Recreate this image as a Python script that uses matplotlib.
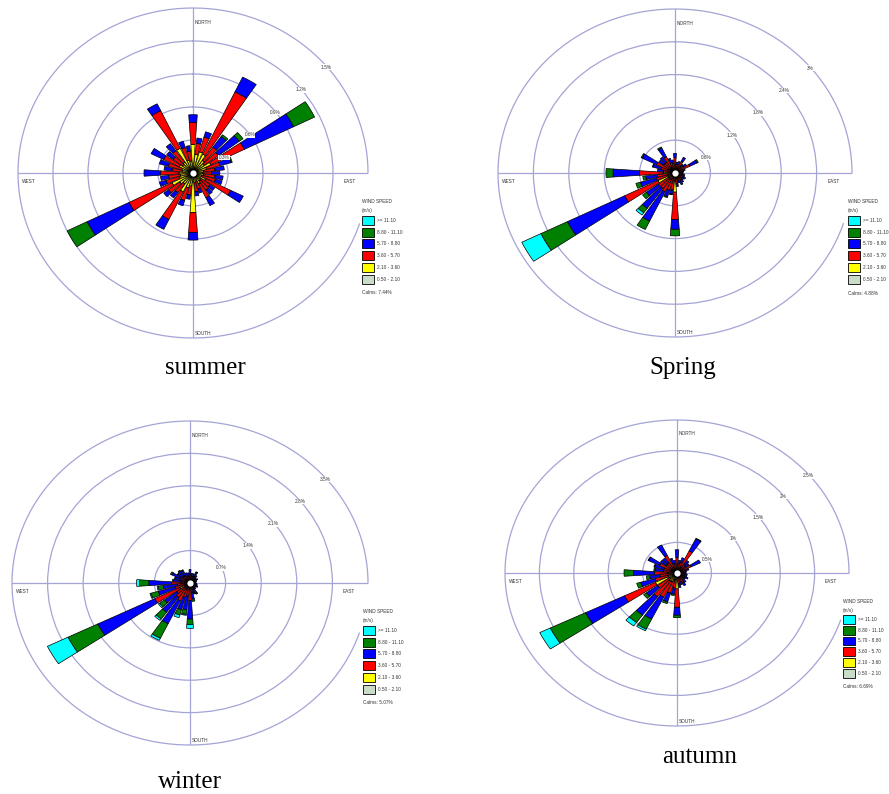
import numpy as np
import matplotlib.pyplot as plt
from matplotlib.patches import Patch

# wind direction sectors (degrees, clockwise from north)
directions = list(range(0, 360, 10))

# speed classes, inner -> outer
speed_labels = ['0.50 - 2.10', '2.10 - 3.60', '3.60 - 5.70', '5.70 - 8.80', '8.80 - 11.10', '>= 11.10']
speed_colors = ['#c8dcc8', '#ffff00', '#ff0000', '#0000ff', '#008000', '#00ffff']

# frequencies in percent, one row per speed class
summer = [
    [.06, .05, .05, .04, .04, .04, .05, .04, .03, .03, .03, .03, .04, .03, .03, .04, .03, .03,
     .08, .04, .04, .05, .04, .04, .06, .04, .04, .04, .03, .03, .05, .04, .04, .06, .04, .04],
    [.20, .12, .15, .15, .10, .08, .12, .08, .06, .05, .06, .05, .08, .05, .06, .07, .05, .06,
     .28, .08, .10, .14, .08, .10, .14, .08, .07, .08, .06, .07, .08, .07, .08, .19, .08, .07],
    [.20, .10, .14, .63, .15, .15, .32, .12, .10, .08, .10, .12, .24, .10, .10, .14, .07, .08,
     .18, .08, .12, .28, .10, .12, .41, .12, .10, .16, .09, .12, .15, .10, .13, .38, .12, .09],
    [.07, .05, .05, .15, .12, .22, .47, .10, .08, .07, .07, .06, .12, .05, .05, .08, .04, .04,
     .07, .04, .05, .10, .06, .05, .40, .06, .07, .14, .07, .08, .12, .07, .08, .07, .06, .05],
    [0, 0, 0, 0, .02, .04, .20, .01, 0, 0, 0, 0, 0, 0, 0, 0, 0, 0,
     0, 0, 0, 0, 0, 0, .19, 0, 0, 0, 0, 0, 0, 0, 0, 0, 0, 0],
    [0, 0, 0, 0, 0, 0, 0, 0, 0, 0, 0, 0, 0, 0, 0, 0, 0, 0,
     0, 0, 0, 0, 0, 0, 0, 0, 0, 0, 0, 0, 0, 0, 0, 0, 0, 0],
]

spring = [
    [.05, .03, .03, .04, .03, .03, .04, .03, .02, .02, .02, .02, .03, .03, .03, .03, .03, .04,
     .15, .04, .04, .05, .05, .05, .12, .05, .04, .08, .03, .04, .05, .04, .04, .04, .03, .03],
    [.08, .05, .05, .06, .04, .05, .06, .04, .04, .03, .04, .04, .04, .04, .05, .05, .04, .06,
     .20, .07, .07, .08, .08, .08, .20, .08, .06, .12, .05, .06, .08, .06, .06, .07, .05, .05],
    [.15, .08, .09, .14, .08, .10, .18, .07, .06, .05, .06, .07, .08, .07, .08, .10, .08, .10,
     .50, .20, .22, .25, .22, .22, .63, .20, .20, .40, .12, .15, .22, .14, .14, .22, .12, .10],
    [.08, .04, .05, .08, .05, .06, .14, .04, .03, .03, .04, .04, .05, .04, .05, .06, .04, .05,
     .18, .08, .12, .60, .45, .25, 1.08, .28, .20, .45, .10, .14, .27, .10, .12, .18, .08, .06],
    [0, 0, 0, 0, 0, 0, .02, 0, 0, 0, 0, 0, 0, 0, 0, 0, 0, 0,
     .12, .01, .02, .17, .10, .08, .50, .08, .05, .12, 0, .01, .02, 0, 0, .02, 0, 0],
    [0, 0, 0, 0, 0, 0, 0, 0, 0, 0, 0, 0, 0, 0, 0, 0, 0, 0,
     0, 0, 0, 0, .05, 0, .36, 0, 0, 0, 0, 0, 0, 0, 0, 0, 0, 0],
]

winter = [
    [.04, .03, .03, .03, .03, .02, .02, .02, .02, .02, .02, .02, .02, .02, .02, .03, .03, .03,
     .05, .04, .05, .05, .05, .05, .10, .05, .04, .08, .03, .03, .04, .03, .03, .03, .03, .03],
    [.05, .04, .04, .04, .04, .03, .03, .03, .03, .03, .03, .03, .03, .03, .03, .04, .04, .05,
     .08, .06, .07, .08, .08, .07, .12, .07, .06, .08, .05, .05, .06, .05, .05, .05, .04, .04],
    [.10, .08, .08, .09, .07, .05, .06, .05, .04, .04, .05, .05, .06, .05, .06, .08, .08, .12,
     .25, .18, .20, .30, .25, .20, .55, .18, .15, .20, .10, .10, .12, .10, .10, .10, .08, .08],
    [.10, .06, .06, .10, .06, .05, .06, .04, .03, .03, .04, .05, .06, .04, .05, .10, .08, .15,
     .40, .30, .28, .55, .40, .30, 1.25, .35, .28, .45, .15, .12, .18, .12, .14, .12, .08, .07],
    [0, 0, 0, .01, 0, 0, 0, 0, 0, 0, 0, 0, 0, 0, 0, .02, .02, .05,
     .12, .10, .12, .35, .18, .12, .65, .15, .10, .18, .02, .02, .03, .01, .02, .02, 0, 0],
    [0, 0, 0, 0, 0, 0, 0, 0, 0, 0, 0, 0, 0, 0, 0, 0, 0, 0,
     .08, .02, .06, .05, .04, .03, .45, .02, .02, .06, 0, 0, 0, 0, 0, 0, 0, 0],
]

autumn = [
    [.04, .03, .03, .04, .03, .03, .03, .02, .02, .02, .02, .02, .02, .02, .03, .03, .03, .03,
     .06, .04, .05, .06, .06, .05, .15, .05, .04, .05, .03, .03, .04, .03, .03, .04, .03, .03],
    [.06, .04, .05, .06, .04, .04, .05, .04, .03, .03, .03, .03, .04, .03, .04, .05, .04, .05,
     .20, .06, .07, .10, .10, .08, .20, .08, .06, .08, .05, .05, .06, .05, .05, .06, .04, .04],
    [.15, .08, .10, .30, .10, .08, .15, .07, .05, .05, .06, .06, .07, .06, .07, .09, .08, .10,
     .30, .15, .22, .28, .32, .22, .50, .20, .15, .20, .12, .12, .18, .12, .12, .22, .10, .08],
    [.13, .06, .08, .22, .08, .07, .15, .05, .04, .03, .04, .04, .05, .04, .05, .06, .05, .06,
     .13, .10, .15, .40, .37, .20, .63, .22, .15, .30, .12, .14, .18, .10, .10, .19, .08, .06],
    [0, 0, 0, .01, 0, 0, 0, 0, 0, 0, 0, 0, 0, 0, 0, 0, 0, 0,
     .04, .02, .03, .18, .15, .05, .57, .06, .05, .14, .02, .01, .01, 0, 0, 0, 0, 0],
    [0, 0, 0, 0, 0, 0, 0, 0, 0, 0, 0, 0, 0, 0, 0, 0, 0, 0,
     0, 0, 0, .03, .07, 0, .17, 0, 0, 0, 0, 0, 0, 0, 0, 0, 0, 0],
]

summer_rings = ['0.3%', '0.6%', '0.9%', '1.2%', '1.5%']
spring_rings = ['0.6%', '1.2%', '1.8%', '2.4%', '3%']
winter_rings = ['0.7%', '1.4%', '2.1%', '2.8%', '3.5%']
autumn_rings = ['0.5%', '1%', '1.5%', '2%', '2.5%']

W, H = 889, 794
ring_color = '#a4a4d6'
small = 3.4
sfont = 'Liberation Sans'
tcol = '#333333'

fig = plt.figure(figsize=(W / 100, H / 100), dpi=100)
fig.patch.set_facecolor('white')


def draw_rose(cx, cy, rx, ry, classes, step, ring_labels, calms, leg_dx, calms_dy, row_gap):
    ax = fig.add_axes([(cx - rx) / W, 1 - (cy + ry) / H, 2 * rx / W, 2 * ry / H],
                      projection='polar')
    ax.set_aspect('auto')
    ax.set_theta_zero_location('N')
    ax.set_theta_direction(-1)
    rmax = 5 * step

    theta = np.radians(directions)
    bottom = np.zeros(len(directions))
    for vals, col in zip(classes, speed_colors):
        vals = np.array(vals, dtype=float)
        m = vals > 0
        ax.bar(theta[m], vals[m], width=np.radians(8), bottom=bottom[m],
               color=col, edgecolor='black', linewidth=0.5, zorder=3)
        bottom += vals
    ax.plot(0, 0, 'o', ms=5.5, mfc='white', mec='black', mew=1.0, zorder=5)

    ax.set_ylim(0, rmax)
    ax.set_yticks([step * k for k in range(1, 5)])
    ax.set_yticklabels([])
    ax.set_xticks(np.radians([0, 90, 180, 270]))
    ax.set_xticklabels([])
    ax.grid(color=ring_color, lw=0.9)
    ax.spines['polar'].set_visible(False)
    ax.set_facecolor('none')
    # outer ring, open where the legend sits
    arc = np.radians(np.linspace(108, 450, 400))
    ax.plot(arc, np.full_like(arc, rmax), color=ring_color, lw=0.9, clip_on=False, zorder=1)

    for k, lab in enumerate(ring_labels, start=1):
        ax.annotate(lab, xy=(np.radians(47), step * k), xytext=(4, -5), textcoords='offset points',
                    fontsize=small, family=sfont, ha='center', va='center', color=tcol, zorder=4,
                    bbox=dict(facecolor='white', edgecolor='none', pad=0.3))

    ax.annotate('NORTH', xy=(0, 4.55 * step), xytext=(1.5, 0), textcoords='offset points',
                fontsize=small, family=sfont, ha='left', va='center', color=tcol)
    ax.annotate('SOUTH', xy=(np.pi, 4.85 * step), xytext=(1.5, 0), textcoords='offset points',
                fontsize=small, family=sfont, ha='left', va='center', color=tcol)
    ax.annotate('WEST', xy=(1.5 * np.pi, 4.7 * step), xytext=(0, -6), textcoords='offset points',
                fontsize=small, family=sfont, ha='center', va='center', color=tcol)
    ax.annotate('EAST', xy=(0.5 * np.pi, 4.3 * step), xytext=(0, -6), textcoords='offset points',
                fontsize=small, family=sfont, ha='left', va='center', color=tcol)

    handles = [Patch(facecolor=c, edgecolor='black', linewidth=0.6) for c in speed_colors[::-1]]
    lx = 0.5 + leg_dx / (2 * rx)
    leg = ax.legend(handles, speed_labels[::-1], title='WIND SPEED\n(m/s)', loc='upper left',
                    bbox_to_anchor=(lx, 0.5 - 26 / (2 * ry)), frameon=False,
                    prop={'family': sfont, 'size': small},
                    title_fontproperties={'family': sfont, 'size': small},
                    handlelength=2.5, handleheight=2.5, labelspacing=row_gap,
                    borderpad=0, borderaxespad=0, handletextpad=0.6, alignment='left')
    leg.get_title().set_linespacing(2.0)
    for t in leg.get_texts():
        t.set_color(tcol)
    leg.get_title().set_color(tcol)
    ax.text(lx, 0.5 - calms_dy / (2 * ry), 'Calms: ' + calms, transform=ax.transAxes,
            fontsize=small, family=sfont, va='center', ha='left', color=tcol)
    return ax


draw_rose(193, 173, 175, 165, summer, 0.3, summer_rings, '7.44%', 169, 120, 0.62)
draw_rose(675, 173, 177, 164, spring, 0.6, spring_rings, '4.88%', 173, 120, 0.62)
draw_rose(190, 583, 178, 162, winter, 0.7, winter_rings, '5.07%', 173, 120, 0.62)
draw_rose(677, 573, 172, 153, autumn, 0.5, autumn_rings, '6.69%', 166, 114, 0.42)

titles = [('summer', 205, 368), ('Spring', 683, 368), ('winter', 190, 782), ('autumn', 700, 757)]
for txt, x, y in titles:
    fig.text(x / W, 1 - y / H, txt, family='Liberation Serif', fontsize=18, ha='center', va='center')

fig.savefig('out.png', dpi=100, facecolor='white')
